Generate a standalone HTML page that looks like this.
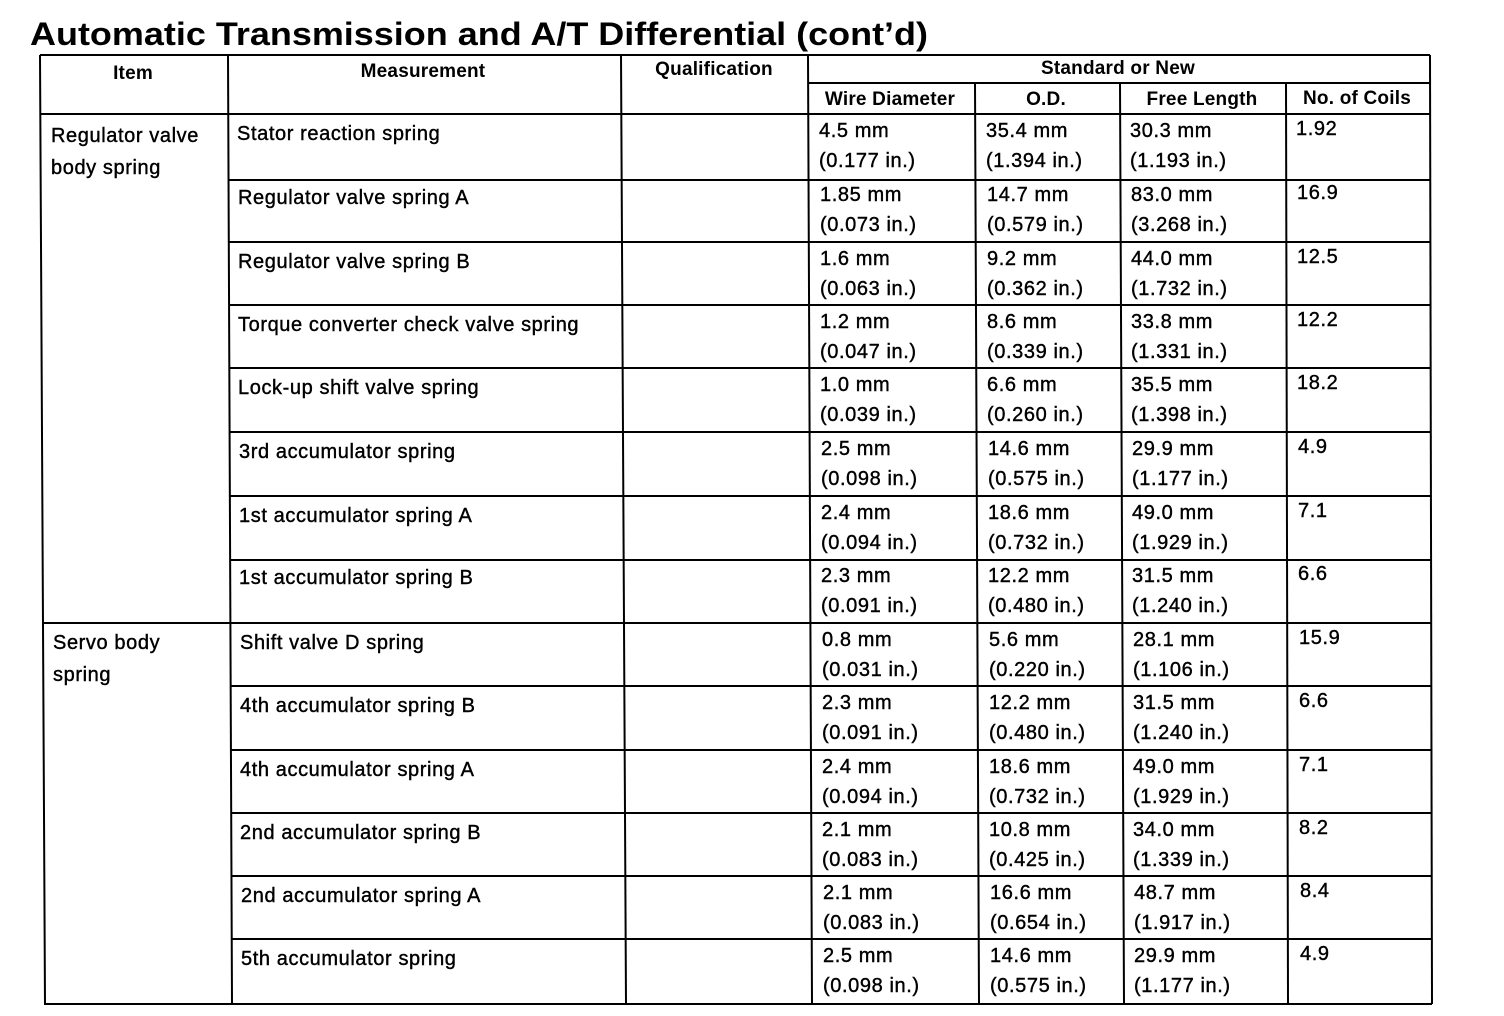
<!DOCTYPE html>
<html><head><meta charset="utf-8"><style>
html,body{margin:0;padding:0;background:#fff;}
svg{display:block}
text{font-family:"Liberation Sans",sans-serif;fill:#000}
.t{font-size:20px;stroke:#000;stroke-width:0.4;letter-spacing:0.6px}
.h{font-size:19px;font-weight:bold;letter-spacing:0.2px}
</style></head><body>
<svg width="1504" height="1016" viewBox="0 0 1504 1016" xmlns="http://www.w3.org/2000/svg">
<rect width="1504" height="1016" fill="#fff"/>
<text x="30" y="45" font-size="32" font-weight="bold" textLength="898" lengthAdjust="spacingAndGlyphs">Automatic Transmission and A/T Differential (cont’d)</text>
<g stroke="#000" stroke-width="2" fill="none">
<line x1="40" y1="55" x2="1430" y2="55"/>
<line x1="40" y1="55" x2="45" y2="1005"/>
<line x1="228" y1="55" x2="232" y2="1004"/>
<line x1="621" y1="55" x2="626" y2="1004"/>
<line x1="808" y1="55" x2="812" y2="1004"/>
<line x1="975" y1="83" x2="979" y2="1004"/>
<line x1="1120" y1="83" x2="1124" y2="1004"/>
<line x1="1286" y1="83" x2="1288" y2="1004"/>
<line x1="1430" y1="55" x2="1432" y2="1004"/>
<line x1="808" y1="83" x2="1430" y2="83"/>
<line x1="40" y1="114" x2="1430" y2="114"/>
<line x1="228" y1="180" x2="1430" y2="180"/>
<line x1="229" y1="242" x2="1430" y2="242"/>
<line x1="229" y1="305" x2="1430" y2="305"/>
<line x1="229" y1="368" x2="1431" y2="368"/>
<line x1="230" y1="432" x2="1431" y2="432"/>
<line x1="230" y1="496" x2="1431" y2="496"/>
<line x1="230" y1="560" x2="1431" y2="560"/>
<line x1="43" y1="623" x2="1431" y2="623"/>
<line x1="231" y1="686" x2="1431" y2="686"/>
<line x1="231" y1="750" x2="1431" y2="750"/>
<line x1="231" y1="813" x2="1432" y2="813"/>
<line x1="232" y1="876" x2="1432" y2="876"/>
<line x1="232" y1="939" x2="1432" y2="939"/>
<line x1="45" y1="1004" x2="1432" y2="1004"/>
</g>
<g text-anchor="middle">
<text x="133" y="79" class="h">Item</text>
<text x="423" y="77" class="h">Measurement</text>
<text x="714" y="75" class="h">Qualification</text>
<text x="1118" y="74" class="h">Standard or New</text>
<text x="890" y="105" class="h">Wire Diameter</text>
<text x="1046" y="105" class="h">O.D.</text>
<text x="1202" y="105" class="h">Free Length</text>
<text x="1357" y="104" class="h">No. of Coils</text>
</g>
<g class="t">
<text x="51" y="142">Regulator valve</text>
<text x="51" y="174">body spring</text>
<text x="53" y="649">Servo body</text>
<text x="53" y="681">spring</text>
</g>
<g class="t">
<g transform="translate(0,114)"><text x="237" y="26">Stator reaction spring</text><text x="819" y="23">4.5 mm</text><text x="819" y="53">(0.177 in.)</text><text x="986" y="23">35.4 mm</text><text x="986" y="53">(1.394 in.)</text><text x="1130" y="23">30.3 mm</text><text x="1130" y="53">(1.193 in.)</text><text x="1296" y="21">1.92</text></g>
<g transform="translate(1,180)"><text x="237" y="24">Regulator valve spring A</text><text x="819" y="21">1.85 mm</text><text x="819" y="51">(0.073 in.)</text><text x="986" y="21">14.7 mm</text><text x="986" y="51">(0.579 in.)</text><text x="1130" y="21">83.0 mm</text><text x="1130" y="51">(3.268 in.)</text><text x="1296" y="19">16.9</text></g>
<g transform="translate(1,242)"><text x="237" y="26">Regulator valve spring B</text><text x="819" y="23">1.6 mm</text><text x="819" y="53">(0.063 in.)</text><text x="986" y="23">9.2 mm</text><text x="986" y="53">(0.362 in.)</text><text x="1130" y="23">44.0 mm</text><text x="1130" y="53">(1.732 in.)</text><text x="1296" y="21">12.5</text></g>
<g transform="translate(1,305)"><text x="237" y="26">Torque converter check valve spring</text><text x="819" y="23">1.2 mm</text><text x="819" y="53">(0.047 in.)</text><text x="986" y="23">8.6 mm</text><text x="986" y="53">(0.339 in.)</text><text x="1130" y="23">33.8 mm</text><text x="1130" y="53">(1.331 in.)</text><text x="1296" y="21">12.2</text></g>
<g transform="translate(1,368)"><text x="237" y="26">Lock-up shift valve spring</text><text x="819" y="23">1.0 mm</text><text x="819" y="53">(0.039 in.)</text><text x="986" y="23">6.6 mm</text><text x="986" y="53">(0.260 in.)</text><text x="1130" y="23">35.5 mm</text><text x="1130" y="53">(1.398 in.)</text><text x="1296" y="21">18.2</text></g>
<g transform="translate(2,432)"><text x="237" y="26">3rd accumulator spring</text><text x="819" y="23">2.5 mm</text><text x="819" y="53">(0.098 in.)</text><text x="986" y="23">14.6 mm</text><text x="986" y="53">(0.575 in.)</text><text x="1130" y="23">29.9 mm</text><text x="1130" y="53">(1.177 in.)</text><text x="1296" y="21">4.9</text></g>
<g transform="translate(2,496)"><text x="237" y="26">1st accumulator spring A</text><text x="819" y="23">2.4 mm</text><text x="819" y="53">(0.094 in.)</text><text x="986" y="23">18.6 mm</text><text x="986" y="53">(0.732 in.)</text><text x="1130" y="23">49.0 mm</text><text x="1130" y="53">(1.929 in.)</text><text x="1296" y="21">7.1</text></g>
<g transform="translate(2,560)"><text x="237" y="24">1st accumulator spring B</text><text x="819" y="22">2.3 mm</text><text x="819" y="52">(0.091 in.)</text><text x="986" y="22">12.2 mm</text><text x="986" y="52">(0.480 in.)</text><text x="1130" y="22">31.5 mm</text><text x="1130" y="52">(1.240 in.)</text><text x="1296" y="20">6.6</text></g>
<g transform="translate(3,623)"><text x="237" y="26">Shift valve D spring</text><text x="819" y="23">0.8 mm</text><text x="819" y="53">(0.031 in.)</text><text x="986" y="23">5.6 mm</text><text x="986" y="53">(0.220 in.)</text><text x="1130" y="23">28.1 mm</text><text x="1130" y="53">(1.106 in.)</text><text x="1296" y="21">15.9</text></g>
<g transform="translate(3,686)"><text x="237" y="26">4th accumulator spring B</text><text x="819" y="23">2.3 mm</text><text x="819" y="53">(0.091 in.)</text><text x="986" y="23">12.2 mm</text><text x="986" y="53">(0.480 in.)</text><text x="1130" y="23">31.5 mm</text><text x="1130" y="53">(1.240 in.)</text><text x="1296" y="21">6.6</text></g>
<g transform="translate(3,750)"><text x="237" y="26">4th accumulator spring A</text><text x="819" y="23">2.4 mm</text><text x="819" y="53">(0.094 in.)</text><text x="986" y="23">18.6 mm</text><text x="986" y="53">(0.732 in.)</text><text x="1130" y="23">49.0 mm</text><text x="1130" y="53">(1.929 in.)</text><text x="1296" y="21">7.1</text></g>
<g transform="translate(3,813)"><text x="237" y="26">2nd accumulator spring B</text><text x="819" y="23">2.1 mm</text><text x="819" y="53">(0.083 in.)</text><text x="986" y="23">10.8 mm</text><text x="986" y="53">(0.425 in.)</text><text x="1130" y="23">34.0 mm</text><text x="1130" y="53">(1.339 in.)</text><text x="1296" y="21">8.2</text></g>
<g transform="translate(4,876)"><text x="237" y="26">2nd accumulator spring A</text><text x="819" y="23">2.1 mm</text><text x="819" y="53">(0.083 in.)</text><text x="986" y="23">16.6 mm</text><text x="986" y="53">(0.654 in.)</text><text x="1130" y="23">48.7 mm</text><text x="1130" y="53">(1.917 in.)</text><text x="1296" y="21">8.4</text></g>
<g transform="translate(4,939)"><text x="237" y="26">5th accumulator spring</text><text x="819" y="23">2.5 mm</text><text x="819" y="53">(0.098 in.)</text><text x="986" y="23">14.6 mm</text><text x="986" y="53">(0.575 in.)</text><text x="1130" y="23">29.9 mm</text><text x="1130" y="53">(1.177 in.)</text><text x="1296" y="21">4.9</text></g>
</g>
</svg>
</body></html>
